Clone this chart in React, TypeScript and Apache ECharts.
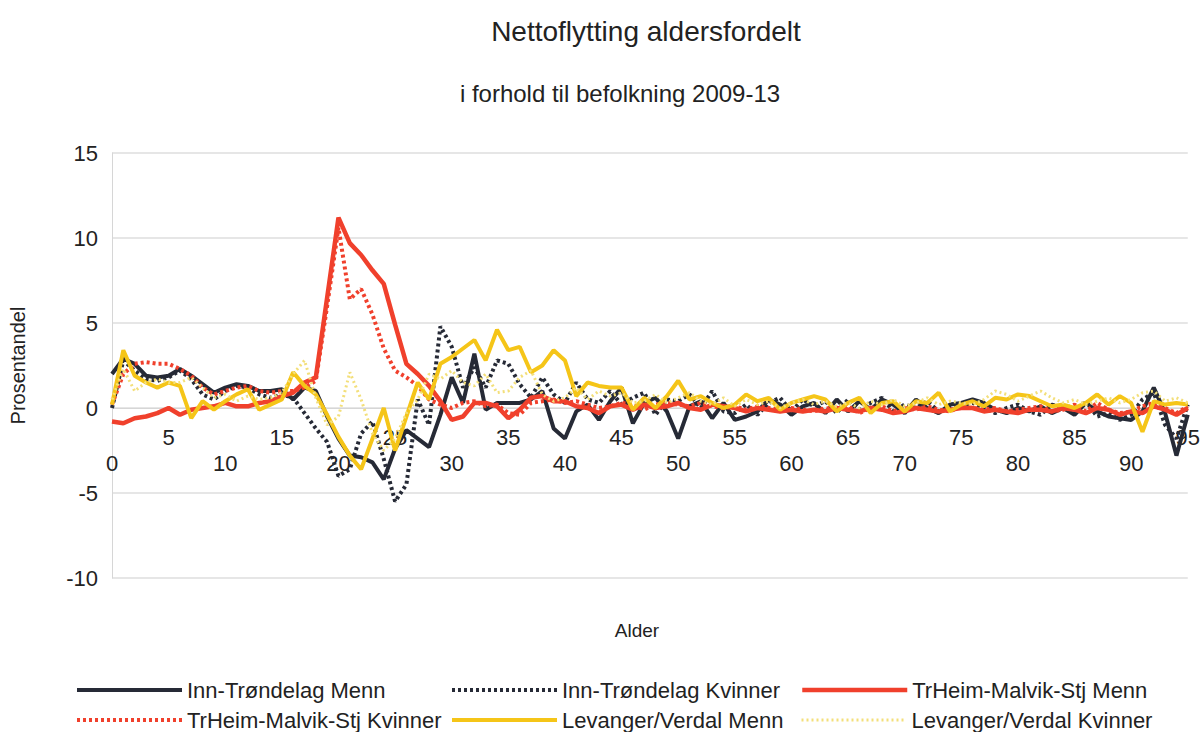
import React, { useEffect, useRef } from "react";
import * as echarts from "echarts";

const ages: string[] = Array.from({ length: 96 }, (_, i) => String(i));

const seriesNames = [
  "Inn-Trøndelag Menn",
  "Inn-Trøndelag Kvinner",
  "TrHeim-Malvik-Stj Menn",
  "TrHeim-Malvik-Stj Kvinner",
  "Levanger/Verdal Menn",
  "Levanger/Verdal Kvinner",
];

const innMenn = [
  2.0, 2.9, 2.6, 1.9, 1.8, 1.9, 2.3, 1.9, 1.4, 0.9,
  1.2, 1.4, 1.3, 1.0, 1.0, 1.1, 0.5, 1.2, 1.0, -0.5,
  -1.8, -2.8, -2.9, -3.2, -4.2, -2.4, -1.3, -1.8, -2.3, -0.4,
  1.8, 0.3, 3.2, -0.1, 0.3, 0.3, 0.3, 0.5, 1.0, -1.2,
  -1.8, -0.2, 0.2, -0.7, 0.4, 1.2, -0.9, 0.3, 0.6, -0.2,
  -1.8, 0.1, 0.4, -0.6, 0.3, -0.7, -0.5, -0.2, 0.5, 0.2,
  -0.4, 0.1, 0.3, -0.3, 0.5, -0.2, 0.4, -0.1, 0.5, 0.2,
  -0.3, 0.5, 0.0, -0.3, 0.2, 0.3, 0.5, 0.3, -0.1, -0.3,
  0.0, -0.2, 0.1, -0.3, 0.0, -0.4, 0.3, -0.2, -0.5, -0.6,
  -0.7, -0.2, 1.2, -0.3, -2.8, -0.4,
];

const innKvinner = [
  0.0, 2.8, 2.2, 1.7, 1.6, 1.8, 2.2, 1.7, 0.8, 0.5,
  1.0, 1.3, 1.2, 0.8, 0.6, 0.8, 0.6, -0.3, -1.2, -2.0,
  -4.0, -3.6, -1.5, -0.8, -3.0, -5.5, -4.5, 0.5, -1.0, 4.8,
  3.6, 1.2, 2.4, 1.2, 2.8, 2.6, 1.4, 0.6, 1.8, 0.8,
  0.3, 1.5, 0.5, 0.3, 1.0, 0.2, 0.6, 0.9, -0.4, 0.5,
  0.4, 0.8, 0.0, 1.0, -0.2, -0.3, 0.2, -0.4, 0.3, 0.6,
  -0.2, 0.5, 0.1, 0.4, -0.3, 0.5, -0.1, 0.3, 0.6, -0.2,
  0.2, 0.0, 0.4, -0.2, 0.0, 0.1, 0.3, 0.0, -0.3, 0.0,
  0.2, -0.2, -0.4, 0.2, 0.0, -0.3, 0.4, -0.5, -0.3, -0.7,
  -0.4, 0.5, 0.9, -1.0, -1.8, 0.2,
];

const trMenn = [
  -0.8, -0.9, -0.6, -0.5, -0.3, 0.0, -0.4, -0.1, 0.0, 0.1,
  0.3, 0.1, 0.1, 0.3, 0.4, 0.7, 0.9, 1.5, 1.8, 6.5,
  11.2, 9.7, 9.0, 8.1, 7.3, 4.9, 2.6, 2.0, 1.3, 0.4,
  -0.7, -0.5, 0.3, 0.3, 0.1, -0.6, -0.1, 0.6, 0.7, 0.4,
  0.4, 0.1, 0.0, -0.3, 0.1, 0.2, -0.1, 0.2, 0.0, 0.1,
  0.3, 0.0, -0.1, 0.2, 0.1, 0.0, -0.2, 0.0, -0.1, -0.2,
  -0.1, -0.2, -0.1, -0.2, 0.0, -0.1, -0.2, 0.0, -0.1, -0.3,
  -0.2, 0.0, -0.1, -0.2, -0.1, 0.0, 0.0, -0.2, -0.1, -0.2,
  -0.3, -0.1, -0.1, -0.2, 0.0, -0.1, -0.3, 0.0, -0.1, -0.4,
  -0.2, -0.3, 0.1, -0.1, -0.4, 0.0,
];

const trKvinner = [
  0.2, 2.0, 2.6, 2.7, 2.6, 2.6, 2.3, 1.9, 1.2, 0.8,
  1.0, 1.2, 1.3, 1.0, 0.9, 1.0, 1.0, 1.2, 1.6, 6.0,
  10.6, 6.4, 7.0, 5.5, 3.5, 2.2, 1.8, 1.3, 0.5, 0.2,
  0.0, 0.3, 0.4, 0.1, 0.2, -0.3, -0.4, 0.3, 0.4, 0.5,
  0.3, 0.4, 0.2, 0.0, 0.1, 0.3, 0.2, -0.1, 0.2, 0.3,
  0.2, 0.1, 0.3, 0.1, 0.0, 0.1, -0.1, 0.1, 0.0, -0.1,
  0.0, -0.1, -0.2, 0.0, -0.1, 0.1, -0.3, 0.0, 0.1, -0.2,
  0.0, -0.1, 0.1, -0.1, -0.2, 0.1, 0.0, -0.1, 0.0, -0.2,
  -0.1, 0.0, 0.1, -0.2, -0.1, 0.2, -0.2, 0.3, -0.1, -0.3,
  -0.2, 0.1, 0.3, 0.0, -0.3, 0.1,
];

const levMenn = [
  0.2, 3.4, 1.9, 1.5, 1.2, 1.5, 1.3, -0.6, 0.4, -0.1,
  0.4, 0.8, 1.1, -0.1, 0.2, 0.5, 2.1, 1.3, 0.8, -0.4,
  -1.7, -2.8, -3.6, -1.8, 0.0, -2.5, -0.5, 1.5, 0.5, 2.6,
  3.0, 3.5, 4.0, 2.8, 4.6, 3.4, 3.6, 2.1, 2.5, 3.4,
  2.8, 0.7, 1.5, 1.3, 1.2, 1.2, -0.1, 0.6, 0.0, 0.7,
  1.6, 0.5, 0.7, 0.3, 0.0, 0.2, 0.8, 0.4, 0.6, -0.1,
  0.3, 0.5, 0.7, 0.5, -0.2, 0.3, 0.6, -0.3, 0.3, 0.4,
  -0.2, 0.4, 0.3, 0.9, -0.2, 0.2, 0.4, 0.1, 0.6, 0.5,
  0.8, 0.7, 0.4, 0.1, 0.2, 0.0, 0.3, 0.8, 0.2, 0.7,
  0.3, -1.4, 0.4, 0.2, 0.3, 0.2,
];

const levKvinner = [
  0.5, 2.3, 1.0, 1.5, 1.7, 1.5, 1.5, 1.8, 1.2, 0.6,
  0.8, 0.4, 0.7, 0.5, 0.6, 0.9, 2.0, 2.8, 0.6, -1.0,
  -0.5, 2.1, 0.5, -1.5, -2.5, -1.8, -0.3, 0.5, 2.0, 1.7,
  2.2, 1.5, 1.3, 2.0, 0.9, 1.0, 1.8, 2.2, 0.8, 0.4,
  0.6, 1.2, 0.5, 1.0, 0.7, 0.9, 0.3, 0.4, 0.8, 0.3,
  0.6, 0.9, 0.4, 0.2, 0.6, 0.1, 0.5, 0.2, 0.4, 0.0,
  0.3, 0.5, 0.2, 0.4, 0.1, 0.3, 0.0, 0.4, 0.2, 0.5,
  0.1, 0.3, 0.6, 0.2, 0.4, 0.3, 0.2, 0.5, 1.0, 0.8,
  0.4, 0.7, 1.0, 0.6, 0.3, 0.5, 0.2, 0.4, 0.6, 0.3,
  0.5, 0.9, 1.0, 0.4, 0.6, 0.3,
];

const yTicks = { min: -10, max: 15, interval: 5 };

const FONT = "'Liberation Sans', Arial, sans-serif";

export default function App() {
  const ref = useRef<HTMLDivElement>(null);

  useEffect(() => {
    if (!ref.current) return;
    const chart = echarts.init(ref.current, null, { renderer: "svg" });

    const data = [innMenn, innKvinner, trMenn, trKvinner, levMenn, levKvinner];
    const colors = ["#262a36", "#262a36", "#f0402c", "#f0402c", "#f5c518", "#f3df7a"];
    const dash: any[] = ["solid", [3, 3], "solid", [3, 3], "solid", [2, 3]];
    const widths = [4, 4, 4.5, 4, 4, 3];

    const legendPos = [
      { left: 75, top: 679 },
      { left: 450, top: 679 },
      { left: 800, top: 679 },
      { left: 75, top: 709 },
      { left: 450, top: 709 },
      { left: 800, top: 709 },
    ];

    chart.setOption({
      animation: false,
      backgroundColor: "#ffffff",
      textStyle: { fontFamily: FONT },
      title: [
        {
          text: "Nettoflytting aldersfordelt",
          left: 641,
          top: 12,
          textAlign: "center",
          textStyle: { fontSize: 28, fontWeight: "normal", color: "#222", fontFamily: FONT },
        },
        {
          text: "i forhold til befolkning 2009-13",
          left: 615,
          top: 76,
          textAlign: "center",
          textStyle: { fontSize: 24, fontWeight: "normal", color: "#222", fontFamily: FONT },
        },
        {
          text: "Alder",
          left: 632,
          top: 616,
          textAlign: "center",
          textStyle: { fontSize: 19, fontWeight: "normal", color: "#222", fontFamily: FONT },
        },
      ],
      legend: seriesNames.map((n, i) => ({
        data: [n],
        left: legendPos[i].left,
        top: legendPos[i].top,
        itemWidth: 105,
        itemHeight: 14,
        padding: 0,
        selectedMode: false,
        itemStyle: { opacity: 0 },
        lineStyle: { width: widths[i] },
        textStyle: { fontSize: 22, color: "#222", fontFamily: FONT },
      })),
      grid: { left: 111, right: 13, top: 153, bottom: 154, containLabel: false },
      xAxis: {
        type: "category",
        data: ages,
        boundaryGap: false,
        offset: -170,
        axisLine: { onZero: false, lineStyle: { color: "#d6d6d6", width: 1 } },
        axisTick: { show: false },
        splitLine: { show: false },
        axisLabel: {
          interval: 4,
          margin: 16,
          fontSize: 22,
          color: "#222",
          lineHeight: 26,
          fontFamily: FONT,
          formatter: (v: string) => (Number(v) % 10 === 0 ? "\n" + v : v),
        },
      },
      yAxis: {
        type: "value",
        min: yTicks.min,
        max: yTicks.max,
        interval: yTicks.interval,
        name: "Prosentandel",
        nameLocation: "middle",
        nameRotate: 90,
        nameGap: 84,
        nameTextStyle: { fontSize: 20, color: "#222", fontFamily: FONT },
        axisLine: { show: true, lineStyle: { color: "#d6d6d6", width: 1 } },
        axisTick: { show: false },
        axisLabel: { fontSize: 22, color: "#222", margin: 14, fontFamily: FONT },
        splitLine: { show: true, lineStyle: { color: "#dedede", width: 1.5 } },
      },
      series: seriesNames.map((n, i) => ({
        name: n,
        type: "line",
        data: data[i],
        symbol: "none",
        showSymbol: false,
        smooth: false,
        color: colors[i],
        lineStyle: { color: colors[i], width: widths[i], type: dash[i], cap: "butt" },
        z: 2 + i,
      })),
    });

    return () => chart.dispose();
  }, []);

  return (
    <div
      ref={ref}
      style={{ position: "fixed", left: 0, top: 0, width: 1203, height: 732, background: "#fff" }}
    />
  );
}
